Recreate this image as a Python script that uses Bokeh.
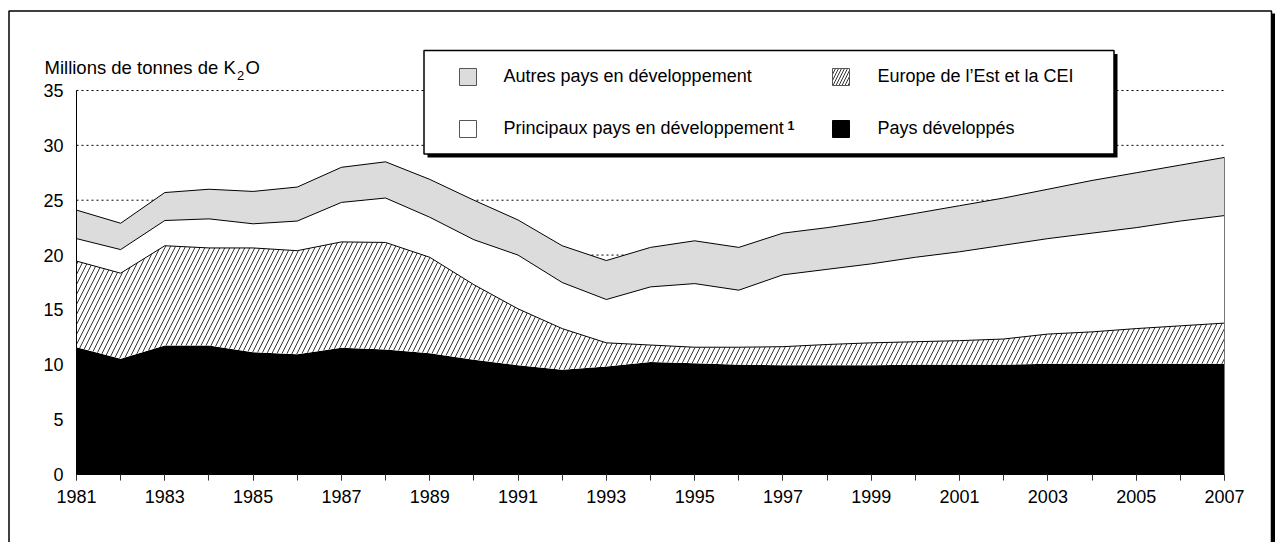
import numpy as np
from bokeh.plotting import figure
from bokeh.models import ColumnDataSource, Range1d, FixedTicker, BoxAnnotation, Label
from bokeh.embed import file_html
from bokeh.resources import INLINE

# ---------------- data (millions de tonnes de K2O) ----------------
years = list(range(1981, 2008))
developpes = [11.6, 10.55, 11.75, 11.75, 11.15, 10.95, 11.55, 11.4, 11.05, 10.45,
              9.95, 9.55, 9.85, 10.25, 10.15, 10.0, 9.95, 9.95, 9.95, 10.0,
              10.0, 10.0, 10.1, 10.1, 10.1, 10.1, 10.1]
europe_cei = [7.85, 7.8, 9.1, 8.9, 9.5, 9.45, 9.65, 9.75, 8.75, 6.85,
              5.15, 3.75, 2.15, 1.55, 1.45, 1.6, 1.7, 1.9, 2.05, 2.1,
              2.2, 2.35, 2.7, 2.9, 3.2, 3.45, 3.7]
principaux = [2.05, 2.15, 2.3, 2.65, 2.2, 2.7, 3.6, 4.05, 3.65, 4.1,
              4.9, 4.2, 3.95, 5.3, 5.8, 5.2, 6.55, 6.85, 7.2, 7.7,
              8.1, 8.55, 8.7, 9.0, 9.2, 9.55, 9.8]
autres = [2.6, 2.4, 2.55, 2.7, 2.95, 3.1, 3.2, 3.3, 3.45, 3.6,
          3.2, 3.35, 3.55, 3.6, 3.9, 3.9, 3.8, 3.8, 3.9, 4.0,
          4.2, 4.3, 4.5, 4.8, 5.0, 5.1, 5.3]

x_tick_years = list(range(1981, 2008, 2))
y_ticks = [0, 5, 10, 15, 20, 25, 30, 35]
legend_labels = ["Autres pays en développement", "Europe de l\u2019Est et la CEI",
                 "Principaux pays en développement", "Pays développés"]
y_title = ["Millions de tonnes de K", "2", "O"]

FONT = "Liberation Sans"
W, H = 1275, 542

# pixel placement of the plotting area inside the canvas
PX_L, PX_R, PX_T, PX_B = 76, 1224, 90, 474
Y_MAX = 35
xs = (PX_R - PX_L) / (years[-1] - years[0])
ys = (PX_B - PX_T) / Y_MAX
x_range = Range1d(years[0] - PX_L / xs, years[-1] + (W - PX_R) / xs)
y_range = Range1d(-(H - PX_B) / ys, Y_MAX + PX_T / ys)

c1 = np.array(developpes)
c2 = c1 + np.array(europe_cei)
c3 = c2 + np.array(principaux)
c4 = c3 + np.array(autres)
src = ColumnDataSource(dict(year=years, zero=np.zeros(len(years)), c1=c1, c2=c2, c3=c3, c4=c4))

p = figure(width=W, height=H, output_backend="svg", toolbar_location=None,
           x_range=x_range, y_range=y_range, min_border=0)
p.outline_line_color = None
p.background_fill_color = "white"
p.border_fill_color = "white"
p.xgrid.visible = False
p.ygrid.visible = False

# dotted horizontal grid lines (under the areas)
gy = y_ticks[1:]
p.segment(x0=[years[0]] * len(gy), y0=gy, x1=[years[-1]] * len(gy), y1=gy,
          line_color="black", line_width=1, line_dash="2 3")

# stacked areas
p.varea(x="year", y1="zero", y2="c1", source=src, fill_color="black")
p.varea(x="year", y1="c1", y2="c2", source=src, fill_color="white",
        hatch_pattern="/", hatch_color="black", hatch_scale=10, hatch_weight=0.8)
p.varea(x="year", y1="c2", y2="c3", source=src, fill_color="white")
p.varea(x="year", y1="c3", y2="c4", source=src, fill_color="#dcdcdc")
for col in ["c2", "c3", "c4"]:
    p.line(x="year", y=col, source=src, line_color="black", line_width=1)
p.segment(x0=[years[-1]], y0=[0], x1=[years[-1]], y1=[float(c4[-1])],
          line_color="#777777", line_width=1)

# axes drawn at fixed data locations
p.yaxis.fixed_location = years[0]
p.yaxis.bounds = (0, Y_MAX)
p.yaxis.ticker = FixedTicker(ticks=y_ticks)
p.yaxis.axis_line_color = "black"
p.yaxis.major_tick_out = 0
p.yaxis.major_tick_in = 0
p.yaxis.minor_tick_line_color = None
p.yaxis.major_label_standoff = 13
p.yaxis.major_label_text_font = FONT
p.yaxis.major_label_text_font_size = "18px"
p.yaxis.major_label_text_color = "black"

p.xaxis.fixed_location = 0
p.xaxis.bounds = (years[0], years[-1])
p.xaxis.ticker = FixedTicker(ticks=x_tick_years, minor_ticks=years)
p.xaxis.axis_line_color = "black"
p.xaxis.major_tick_out = 6
p.xaxis.major_tick_in = 0
p.xaxis.minor_tick_out = 6
p.xaxis.minor_tick_in = 0
p.xaxis.major_tick_line_color = "#333333"
p.xaxis.minor_tick_line_color = "#333333"
p.xaxis.major_label_standoff = 9
p.xaxis.major_label_text_font = FONT
p.xaxis.major_label_text_font_size = "18px"
p.xaxis.major_label_text_color = "black"

def box(l, r, t, b, **kw):
    return BoxAnnotation(left=l, right=r, top=t, bottom=b,
                         left_units="canvas", right_units="canvas",
                         top_units="canvas", bottom_units="canvas", level="overlay", **kw)

# outer frame with shadow
p.add_layout(box(1271.5, 1275, 13, 700, fill_color="black", fill_alpha=1, line_color=None))
p.add_layout(box(8.5, 1271, 10.5, 700, fill_color=None, fill_alpha=0,
                 line_color="black", line_width=1.5, line_alpha=1))

# legend box with shadow
p.add_layout(box(427, 1117, 53.5, 157, fill_color="black", fill_alpha=1, line_color=None))
p.add_layout(box(423.5, 1113.5, 50, 153.5, fill_color="white", fill_alpha=1,
                 line_color="black", line_width=1.5, line_alpha=1))

# legend swatches
p.add_layout(box(459, 476, 68, 85, fill_color="#dcdcdc", fill_alpha=1, line_color="#555555", line_width=1, line_alpha=1))
p.add_layout(box(832, 849, 68, 85, fill_color="white", fill_alpha=1, line_color="#555555", line_width=1, line_alpha=1,
                 hatch_pattern="/", hatch_color="black", hatch_scale=6, hatch_weight=0.8, hatch_alpha=1))
p.add_layout(box(459, 476, 120, 137, fill_color="white", fill_alpha=1, line_color="#555555", line_width=1, line_alpha=1))
p.add_layout(box(832, 849, 120, 137, fill_color="black", fill_alpha=1, line_color="black", line_width=1, line_alpha=1))

def lab(x, y, text, size="18px", style="normal", baseline="middle"):
    # x, y given as canvas pixels measured from the top-left corner
    p.add_layout(Label(x=x, y=H - y, x_units="screen", y_units="screen", text=text,
                       text_font=FONT, text_font_size=size, text_font_style=style,
                       text_color="black", text_align="left", text_baseline=baseline,
                       level="overlay"))

lab(503, 75, legend_labels[0])
lab(877, 75, legend_labels[1])
lab(503, 127, legend_labels[2])
lab(787, 125, "1", size="12.5px", style="bold", baseline="alphabetic")
lab(877, 127, legend_labels[3])

# y axis title with subscript
lab(44, 66.7, y_title[0], size="18.5px", baseline="alphabetic")
lab(236.5, 75, y_title[1], size="13px", baseline="alphabetic")
lab(245, 66.7, y_title[2], size="18.5px", baseline="alphabetic")

open("out.html", "w").write(file_html(p, INLINE))
